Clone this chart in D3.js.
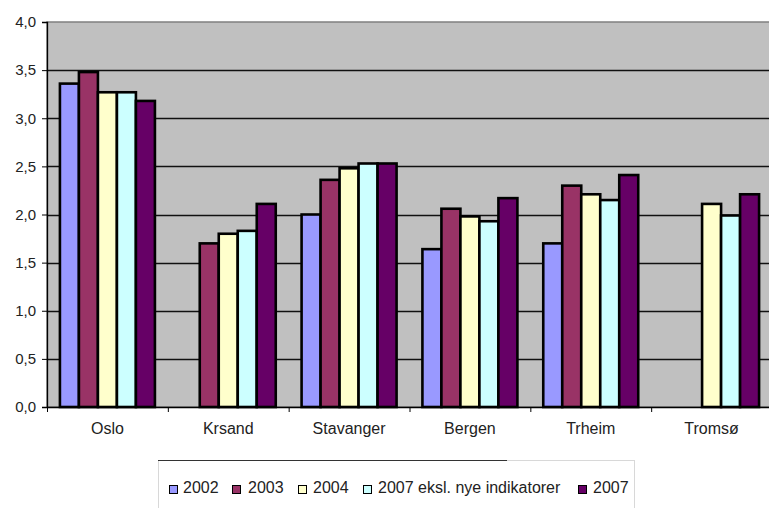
<!DOCTYPE html>
<html><head><meta charset="utf-8">
<script src="https://cdn.jsdelivr.net/npm/d3@7"></script>
<style>body{margin:0;background:#fff;}svg{display:block;font-family:Arial,"Liberation Sans",sans-serif;}</style>
</head><body>
<svg id="c" width="769" height="508"></svg>
<script>
const categories = ["Oslo","Krsand","Stavanger","Bergen","Trheim","Tromsø"];
const seriesNames = ["2002","2003","2004","2007 eksl. nye indikatorer","2007"];
const colors = ["#9999ff","#993366","#ffffcc","#ccffff","#660066"];
const s2002 = [3.36, null, 2.00, 1.64, 1.70, null];
const s2003 = [3.48, 1.70, 2.36, 2.06, 2.30, null];
const s2004 = [3.27, 1.80, 2.48, 1.98, 2.21, 2.11];
const s2007eksl = [3.27, 1.83, 2.53, 1.93, 2.15, 1.99];
const s2007 = [3.18, 2.11, 2.53, 2.17, 2.41, 2.21];
const seriesValues = [s2002, s2003, s2004, s2007eksl, s2007];
const yTicks = [0,0.5,1,1.5,2,2.5,3,3.5,4];

const svg = d3.select("#c");
const pL = 47, pR = 772, pT = 22, pB = 407;
const x = d3.scaleBand().domain(categories).range([pL, pR]).paddingInner(0).paddingOuter(0);
const inner = d3.scaleBand().domain(seriesNames).range([0, x.bandwidth()]).paddingOuter(0.68).paddingInner(0);
const y = d3.scaleLinear().domain([0,4]).range([pB, pT]);

// plot background
svg.append("rect").attr("x", pL).attr("y", pT).attr("width", pR-pL).attr("height", pB-pT)
  .attr("fill", "#c0c0c0").attr("stroke", "#808080").attr("stroke-width", 1.5);

// gridlines
svg.append("g").selectAll("line").data(yTicks.filter(d=>d>0 && d<4)).join("line")
  .attr("x1", pL).attr("x2", pR).attr("y1", d=>Math.round(y(d))+0.5).attr("y2", d=>Math.round(y(d))+0.5)
  .attr("stroke", "#111").attr("stroke-width", 1.3);

// bars
const g = svg.append("g");
seriesValues.forEach((vals, si) => {
  g.append("g").selectAll("rect").data(categories.map((c,i)=>({c, v: vals[i]})).filter(d=>d.v!=null)).join("rect")
    .attr("x", d => x(d.c) + inner(seriesNames[si]))
    .attr("y", d => y(d.v))
    .attr("width", inner.bandwidth())
    .attr("height", d => y(0) - y(d.v))
    .attr("fill", colors[si]).attr("stroke", "#000").attr("stroke-width", 2.6);
});

// y axis
const ya = svg.append("g").attr("transform", `translate(${pL},0)`)
  .call(d3.axisLeft(y).tickValues(yTicks).tickFormat(d => d3.format(".1f")(d).replace(".", ",")).tickSize(5).tickPadding(6));
ya.select(".domain").attr("stroke", "#000").attr("stroke-width", 1.3);
ya.selectAll(".tick line").attr("stroke", "#000");
ya.selectAll("text").attr("font-size", 15).attr("fill", "#222").attr("font-family", "Arial, 'Liberation Sans', sans-serif");

// x axis
const xa = svg.append("g").attr("transform", `translate(0,${pB})`)
  .call(d3.axisBottom(x).tickSize(0).tickPadding(15.5));
xa.select(".domain").attr("stroke", "#000").attr("stroke-width", 1.3);
xa.selectAll("text").attr("font-size", 16).attr("fill", "#222").attr("font-family", "Arial, 'Liberation Sans', sans-serif");
svg.append("g").selectAll("line").data(categories).join("line")
  .attr("x1", d=>x(d)+0.5).attr("x2", d=>x(d)+0.5).attr("y1", pB).attr("y2", pB+5)
  .attr("stroke", "#000");

// legend
const lg = svg.append("g");
lg.append("rect").attr("x", 158.5).attr("y", 460.5).attr("width", 476).attr("height", 60)
  .attr("fill", "#fff").attr("stroke", "#d8d8d8");
lg.append("line").attr("x1", 158).attr("x2", 507).attr("y1", 460.5).attr("y2", 460.5).attr("stroke", "#333").attr("stroke-width", 1.2);
const sqX = [169, 232, 298, 363, 578];
const txX = [183, 248, 313, 378, 593];
seriesNames.forEach((n, i) => {
  lg.append("rect").attr("x", sqX[i]+0.5).attr("y", 485.5).attr("width", 8).attr("height", 8)
    .attr("fill", colors[i]).attr("stroke", "#000").attr("stroke-width", 1);
  lg.append("text").attr("x", txX[i]).attr("y", 493).attr("font-size", 16).attr("fill", "#222").text(n);
});
</script>
</body></html>
